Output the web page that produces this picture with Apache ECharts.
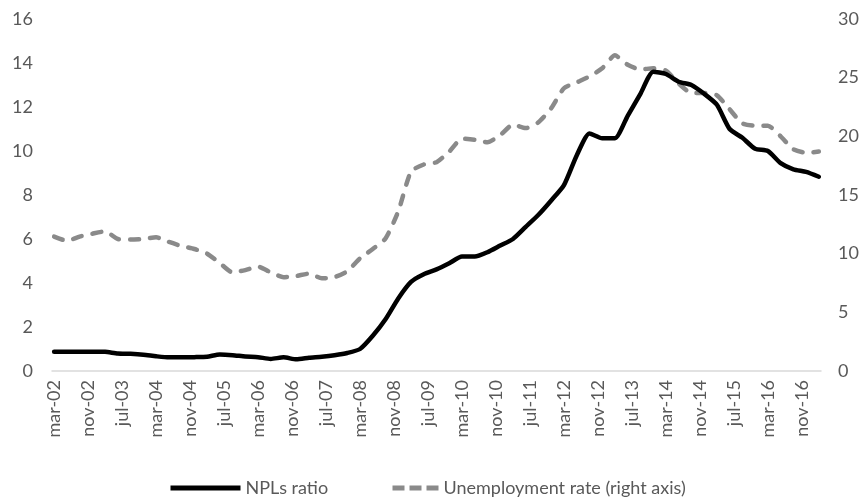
<!DOCTYPE html>
<html>
<head>
<meta charset="utf-8">
<script src="https://cdn.jsdelivr.net/npm/echarts@6/dist/echarts.min.js"></script>
<style>
	html, body { margin: 0; padding: 0; background: #fff; }
	#chart { width: 864px; height: 499px; }
</style>
</head>
<body>
<div id="chart"></div>
<script>
	// meses para el eje (mensual, de mar-02 a mar-17)
	const mesNames = ['ene', 'feb', 'mar', 'abr', 'may', 'jun', 'jul', 'ago', 'sep', 'oct', 'nov', 'dic'];
	const firstYear = 2002, firstMonth = 2;
	const monthCount = 181;

	// datos trimestrales (mar, jun, sep, dic), de mar-02 a mar-17
	const nplRatio = [
		0.88, 0.88, 0.88, 0.88,
		0.87, 0.80, 0.78, 0.74,
		0.67, 0.62, 0.62, 0.63,
		0.65, 0.75, 0.72, 0.66,
		0.63, 0.55, 0.62, 0.53,
		0.60, 0.65, 0.72, 0.82,
		1.00, 1.60, 2.35, 3.30,
		4.05, 4.40, 4.62, 4.90,
		5.20, 5.20, 5.40, 5.70,
		6.00, 6.55, 7.10, 7.75,
		8.45, 9.80, 10.80, 10.58,
		10.58, 11.60, 12.60, 13.60,
		13.50, 13.15, 13.00, 12.60,
		12.10, 11.00, 10.60, 10.10,
		10.00, 9.45, 9.17, 9.05,
		8.83
	];
	const unemploymentRate = [
		11.45, 11.10, 11.45, 11.70,
		11.90, 11.25, 11.20, 11.25,
		11.40, 11.00, 10.65, 10.40,
		10.00, 9.20, 8.40, 8.60,
		8.90, 8.40, 8.00, 8.10,
		8.30, 7.90, 8.00, 8.50,
		9.60, 10.40, 11.30, 13.60,
		17.00, 17.60, 17.80, 18.70,
		19.80, 19.70, 19.50, 20.10,
		21.00, 20.70, 21.20, 22.40,
		24.10, 24.60, 25.10, 25.80,
		26.90, 26.10, 25.70, 25.80,
		25.60, 24.50, 23.70, 23.70,
		23.50, 22.30, 21.10, 20.90,
		20.90, 20.00, 18.90, 18.60,
		18.70
	];

	const seriesNames = ['NPLs ratio', 'Unemployment rate (right axis)'];
	const leftTicks = { min: 0, max: 16, interval: 2 };
	const rightTicks = { min: 0, max: 30, interval: 5 };

	const months = [];
	for (let i = 0; i < monthCount; i++) {
		const m = (firstMonth + i) % 12;
		const y = firstYear + Math.floor((firstMonth + i) / 12);
		months.push(mesNames[m] + '-' + String(y % 100).padStart(2, '0'));
	}
	// cada trimestre cae en el mes 3*i del eje
	const toPoints = (arr) => arr.map((v, i) => [months[i * 3], v]);

	const textColor = '#595959';
	const font = 'Lato';

	const myChart = echarts.init(document.getElementById('chart'));
	const option = {
		animation: false,
		backgroundColor: '#fff',
		textStyle: { fontFamily: font },
		grid: { left: 52, right: 43, top: 19, bottom: 128 },
		legend: [{
			data: [seriesNames[0]],
			left: 163,
			top: 474,
			itemWidth: 70,
			itemHeight: 20,
			itemStyle: { opacity: 0 },
			lineStyle: { width: 5, cap: 'butt' },
			textStyle: { color: textColor, fontSize: 18, fontFamily: font }
		}, {
			data: [seriesNames[1]],
			left: 385,
			top: 474,
			itemWidth: 46,
			itemHeight: 20,
			itemStyle: { opacity: 0 },
			lineStyle: { width: 5, type: [12, 5], cap: 'butt' },
			textStyle: { color: textColor, fontSize: 18, fontFamily: font }
		}],
		xAxis: {
			type: 'category',
			data: months,
			boundaryGap: true,
			axisLine: { lineStyle: { color: '#d9d9d9', width: 1.5 } },
			axisTick: { show: false },
			splitLine: { show: false },
			axisLabel: {
				interval: 7,
				rotate: 90,
				margin: 9,
				color: textColor,
				fontSize: 18,
				fontFamily: font
			}
		},
		yAxis: [{
			type: 'value',
			min: leftTicks.min,
			max: leftTicks.max,
			interval: leftTicks.interval,
			axisLine: { show: false },
			axisTick: { show: false },
			splitLine: { show: false },
			axisLabel: { color: textColor, fontSize: 18, fontFamily: font, margin: 19 }
		}, {
			type: 'value',
			position: 'right',
			min: rightTicks.min,
			max: rightTicks.max,
			interval: rightTicks.interval,
			axisLine: { show: false },
			axisTick: { show: false },
			splitLine: { show: false },
			axisLabel: { color: textColor, fontSize: 18, fontFamily: font, margin: 17 }
		}],
		series: [{
			name: seriesNames[0],
			type: 'line',
			yAxisIndex: 0,
			data: toPoints(nplRatio),
			symbol: 'none',
			smooth: 0.2,
			color: '#000',
			lineStyle: { color: '#000', width: 4.5, join: 'round', cap: 'round' },
			z: 3
		}, {
			name: seriesNames[1],
			type: 'line',
			yAxisIndex: 1,
			data: toPoints(unemploymentRate),
			symbol: 'none',
			smooth: 0.2,
			color: '#8a8a8a',
			lineStyle: { color: '#8a8a8a', width: 4.5, type: [9, 11], cap: 'round', join: 'round' },
			z: 2
		}]
	};
	myChart.setOption(option);
</script>
</body>
</html>
